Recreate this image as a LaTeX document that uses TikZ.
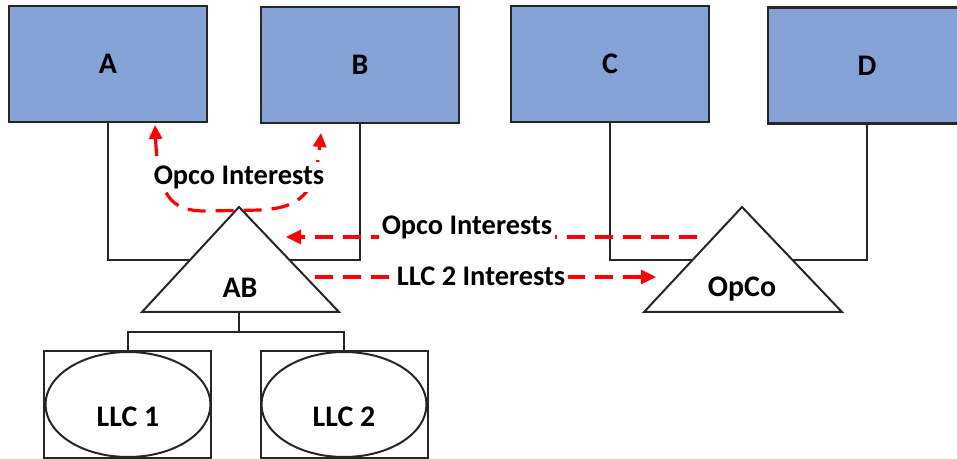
\documentclass[tikz,border=0pt]{standalone}
\usepackage{fontspec}
\setmainfont{Carlito}
\usetikzlibrary{arrows.meta,shapes.geometric}
\definecolor{boxblue}{RGB}{132,162,214}
\definecolor{edgegray}{RGB}{38,38,38}
\definecolor{flowred}{RGB}{255,0,0}
\begin{document}
\begin{tikzpicture}[x=1bp,y=-1bp,
  font=\fontsize{30}{36}\selectfont\bfseries,
  entity/.style={draw=edgegray, line width=2.6bp, fill=boxblue,
    minimum width=198bp, minimum height=116bp, inner sep=0pt},
  link/.style={draw=edgegray, line width=2bp},
  tri/.style={draw=edgegray, line width=2bp, fill=white, line join=miter},
  llcbox/.style={draw=edgegray, line width=2bp, fill=white,
    minimum width=167bp, minimum height=107bp, inner sep=0pt},
  llcell/.style={ellipse, draw=edgegray, line width=2bp,
    minimum width=165bp, minimum height=105bp, inner sep=0pt},
  flow/.style={draw=flowred, line width=3.2bp, dash pattern=on 18bp off 10bp},
  tip/.style={-{Triangle[length=15bp,width=14bp]}},
  flowlabel/.style={fill=white, inner sep=3bp,
    font=\fontsize{28.5}{34}\selectfont\bfseries},
]
\useasboundingbox (0,0) rectangle (957,459);
\clip (0,0) rectangle (957,459);

% top-level entities
\node[entity] (A) at (108,64) {\raisebox{-3bp}{A}};
\node[entity] (B) at (360,65) {\raisebox{-3bp}{B}};
\node[entity] (C) at (610,64) {\raisebox{-3bp}{C}};
\node[entity] (D) at (867,65.5) {\raisebox{-3bp}{D}};

% joining points under the two holding triangles
\coordinate (abjoin) at (240,260);
\coordinate (opjoin) at (742,260);
\coordinate (abbase) at (239,312);
\coordinate (abbus)  at (239,332);

% ownership lines
\draw[link] (A.south) |- (abjoin);
\draw[link] (B.south) |- (abjoin);
\draw[link] (C.south) |- (opjoin);
\draw[link] (D.south) |- (opjoin);

% interest flows
\coordinate (atip) at (155,125);
\coordinate (btip) at (321,133);
\draw[flow, {Triangle[length=14bp,width=13bp]}-{Triangle[length=14bp,width=13bp]}]
  (atip) .. controls (158,195) and (170,211) .. (205,211)
  -- (262,210) .. controls (300,207) and (315,195) .. (btip);

\coordinate (opL) at (697,237);
\coordinate (abR) at (286,237);
\draw[flow, tip] (opL) -- (abR);

\coordinate (abL) at (315,277);
\coordinate (opR) at (656,277);
\draw[flow, tip] (abL) -- (opR);

\node[flowlabel] (lblAB) at (239,177) {Opco Interests};
\node[flowlabel] (lblOp) at (467,227) {Opco Interests};
\node[flowlabel] (lblLLC) at (481,276) {LLC 2 Interests};

% holding triangles
\draw[tri] (239,207) -- (142,312) -- (339,312) -- cycle;
\node (AB) at (240,288) {AB};
\draw[tri] (742,207) -- (644,312) -- (842,312) -- cycle;
\node (OpCo) at (742,289) {OpCo};

% subsidiaries
\node[llcbox] (llc1box) at (127.5,404.5) {};
\node[llcbox] (llc2box) at (344,404.5) {};
\node[llcell] (llc1) at (128,404.5) {};
\node[llcell] (llc2) at (344,404.5) {};
\node (llc1t) at (128,417) {LLC 1};
\node (llc2t) at (344,417) {LLC 2};

\draw[link] (abbase) -- (abbus);
\draw[link] (llc1box.north) |- (abbus) -| (llc2box.north);
\end{tikzpicture}
\end{document}
